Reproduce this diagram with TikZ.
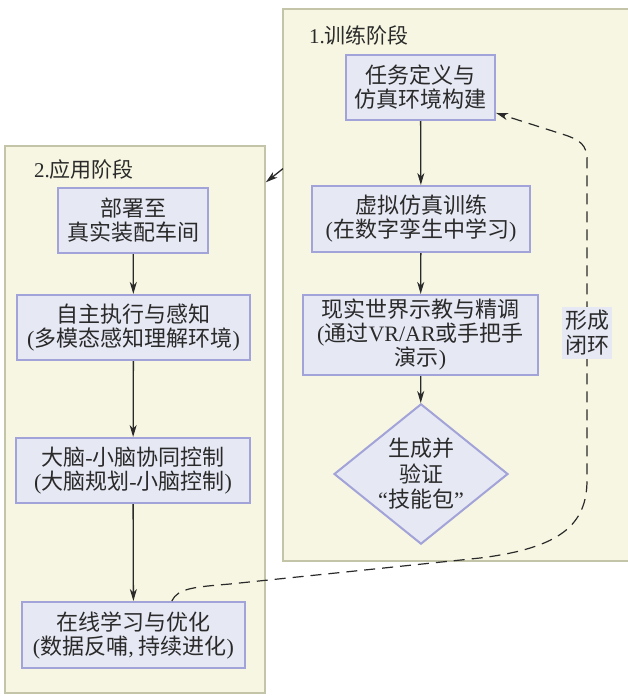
\documentclass[tikz,border=0pt]{standalone}
\usepackage{fontspec}
\setmainfont{Noto Sans CJK SC}
\newfontfamily\latf{Liberation Serif}
\newcommand{\lat}[1]{{\latf #1}}
\usetikzlibrary{shapes.geometric,arrows.meta,calc}
\definecolor{panelfill}{HTML}{F7F6E2}
\definecolor{paneldraw}{HTML}{C4C5A8}
\definecolor{boxfill}{HTML}{E6E8F4}
\definecolor{boxdraw}{HTML}{A2A3D8}
\definecolor{ink}{HTML}{2A2A2A}
\begin{document}
\begin{tikzpicture}[x=1pt,y=-1pt,
  panel/.style={draw=paneldraw,line width=1.8pt,fill=panelfill,inner sep=0pt,anchor=north west},
  stepbox/.style={draw=boxdraw,line width=2pt,fill=boxfill,inner sep=0pt,align=center,
    font=\fontsize{22}{24}\selectfont,text=ink},
  dia/.style={diamond,draw=boxdraw,line width=2pt,fill=boxfill,inner sep=0pt,align=center,
    font=\fontsize{22}{25.5}\selectfont,text=ink,aspect=1.24},
  ttl/.style={font=\fontsize{21}{24}\selectfont,text=ink,anchor=west,inner sep=0pt},
  flow/.style={draw=ink,line width=1.3pt,-{Stealth[length=12pt,width=7pt,inset=3.5pt]}},
  loopline/.style={draw=ink,line width=1.2pt,dash pattern=on 11pt off 7pt,-{Stealth[length=12pt,width=7pt,inset=3.5pt]}}]
\useasboundingbox (0,0) rectangle (627,696);
% panels
\node[panel,minimum width=360pt,minimum height=552pt] (p1) at (282,8) {};
\node[panel,minimum width=260pt,minimum height=547pt] (p2) at (4,145) {};
\node[ttl] (t1) at (309,35) {\lat{1.}训练阶段};
\node[ttl] (t2) at (34,170) {\lat{2.}应用阶段};
% training boxes
\node[stepbox,minimum width=149pt,minimum height=65pt] (b1) at (420.5,87.5) {任务定义与\\仿真环境构建};
\node[stepbox,minimum width=218pt,minimum height=66pt] (b2) at (421,219) {虚拟仿真训练\\\lat{(}在数字孪生中学习\lat{)}};
\node[stepbox,minimum width=235pt,minimum height=80pt] (b3) at (420.5,335) {现实世界示教与精调\\\lat{(}通过\lat{VR/AR}或手把手\\演示\lat{)}};
\node[dia,minimum width=164pt,minimum height=132pt] (b4) at (421,474) {生成并\\验证\\\lat{“}技能包\lat{”}};
% application boxes
\node[stepbox,minimum width=150pt,minimum height=65pt] (a1) at (133,220.5) {部署至\\真实装配车间};
\node[stepbox,minimum width=233pt,minimum height=65pt] (a2) at (133.5,327.5) {自主执行与感知\\\lat{(}多模态感知理解环境\lat{)}};
\node[stepbox,minimum width=234pt,minimum height=65pt] (a3) at (133,470.5) {大脑\lat{-}小脑协同控制\\\lat{(}大脑规划\lat{-}小脑控制\lat{)}};
\node[stepbox,minimum width=223pt,minimum height=66pt] (a4) at (133.5,635) {在线学习与优化\\\lat{(}数据反哺\lat{,} 持续进化\lat{)}};
% arrows
\draw[flow] (b1) -- (b2);
\draw[flow] (b2) -- (b3);
\draw[flow] (b3) -- (b4);
\draw[flow] (a1) -- (a2);
\draw[flow] (a2) -- (a3);
\draw[flow] (a3) -- (a4);
\draw[flow] ($(p1.north west)!0.29!(p1.south west)+(1,0)$) -- ($(p2.north east)!0.068!(p2.south east)$);
% loop
\coordinate (lA) at (587,480);
\coordinate (lB) at (587,160);
\draw[loopline] ($(a4.north west)!0.67!(a4.north east)$) .. controls (178,588) and (195,587) .. (230,584)
  -- (480,558) .. controls (560,548) and (587,525) .. (lA) -- (lB)
  .. controls (587,145) and (580,140) .. (565,135) -- ($(b1.north east)!0.88!(b1.south east)$);
\node[fill=boxfill,inner sep=3pt,align=center,font=\fontsize{22}{25}\selectfont,text=ink] (lbl) at (587,333) {形成\\闭环};
\end{tikzpicture}
\end{document}
